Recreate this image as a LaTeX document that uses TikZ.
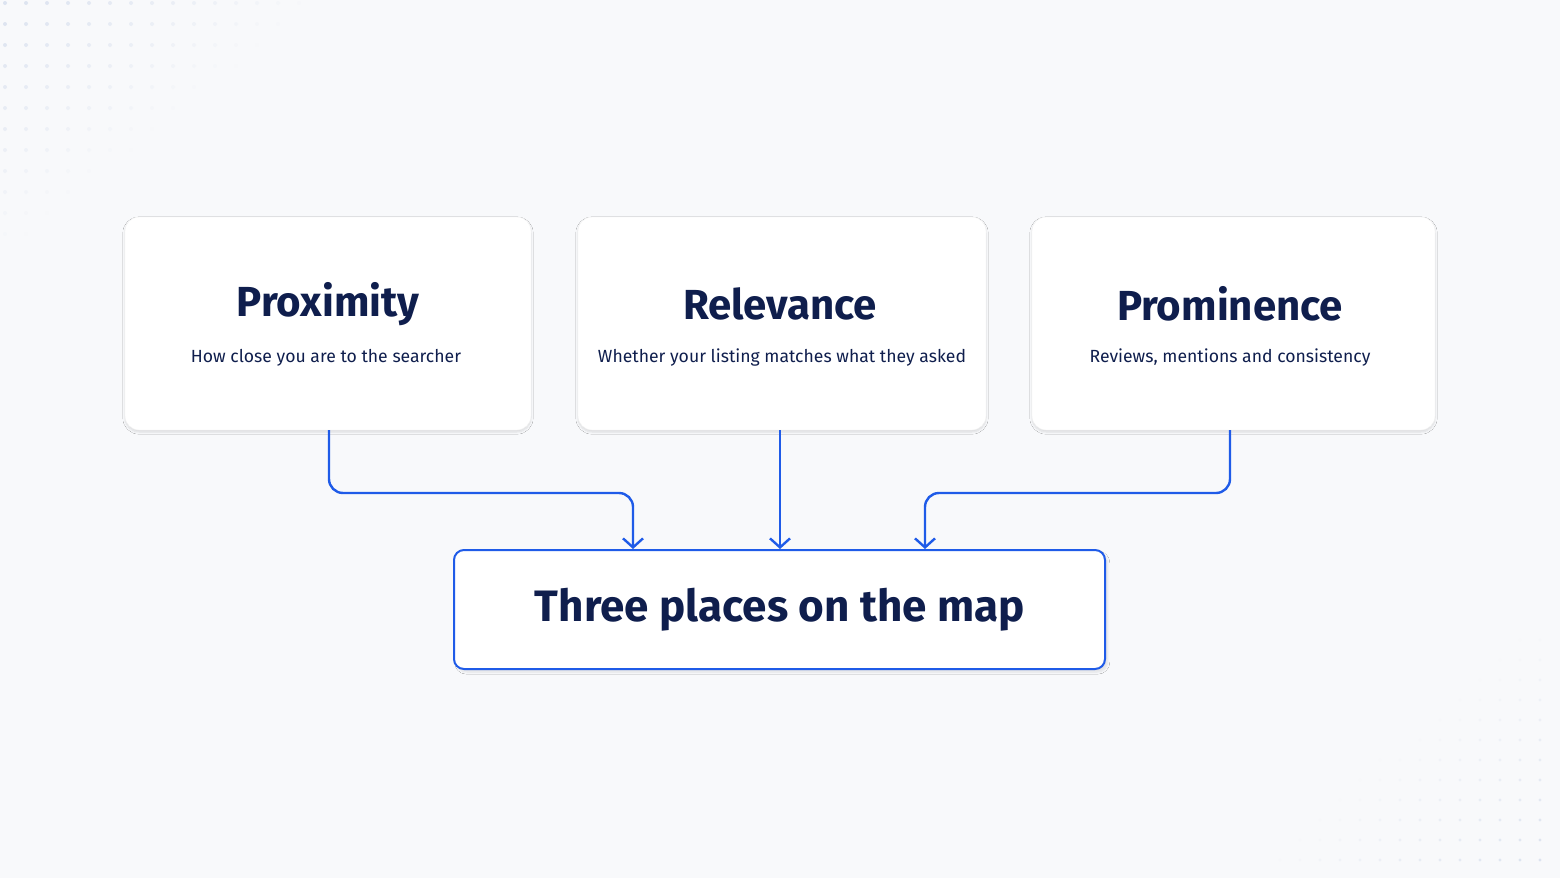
\documentclass[tikz,border=0pt]{standalone}
\usepackage{fontspec}
\setmainfont{Fira Sans}
\usetikzlibrary{shadows.blur,arrows.meta}
\definecolor{navy}{HTML}{0F1E4D}
\definecolor{blu}{HTML}{1F5BE8}
\definecolor{bg}{HTML}{F8F9FB}
\definecolor{dot}{HTML}{DCE3F0}
\begin{document}
\begin{tikzpicture}[x=1pt,y=-1pt,
 card/.style={draw=black!6,fill=white,rounded corners=14pt,minimum width=#1,minimum height=213pt,blur shadow={shadow blur steps=6,shadow xshift=0pt,shadow yshift=-2pt,shadow opacity=12}},
 ttl/.style={font=\fontsize{42}{46}\selectfont\bfseries,text=navy},
 sub/.style={font=\fontsize{17.6}{21}\selectfont,text=navy},
 conn/.style={draw=blu,line width=2.4pt,rounded corners=14pt,-{Straight Barb[length=9pt,width=20pt,line width=2.4pt]}}]
\useasboundingbox (0,0) rectangle (1560,878);
\fill[bg] (0,0) rectangle (1560,878);
\foreach \i in {0,...,14}{\foreach \j in {0,...,11}{
  \pgfmathsetmacro\op{max(0,1-(\i/15+\j/12))}
  \fill[dot,opacity=\op] (5+\i*21,3+\j*21) circle (2pt);}}
\foreach \i in {0,...,13}{\foreach \j in {0,...,11}{
  \pgfmathsetmacro\op{max(0,1-((13-\i)/14+(11-\j)/12))}
  \fill[dot,opacity=\op] (1280+\i*20,640+\j*20) circle (1.6pt);}}
\node[card=406pt] (p) at (328,323.5) {};
\node[card=408pt] (r) at (782,323.5) {};
\node[card=403pt] (m) at (1233.5,323.5) {};
\node[ttl] (pt) at (328,304) {Proximity};
\node[sub] (ps) at (326,358) {How close you are to the searcher};
\node[ttl] (rt) at (780,304) {Relevance};
\node[sub] (rs) at (782,358) {Whether your listing matches what they asked};
\node[ttl] (mt) at (1230,304) {Prominence};
\node[sub] (ms) at (1230,358) {Reviews, mentions and consistency};
\node[draw=blu,line width=2pt,fill=white,rounded corners=10pt,minimum width=651pt,minimum height=119pt,blur shadow={shadow blur steps=6,shadow yshift=-3pt,shadow opacity=10}] (b) at (779.5,609.5) {};
\node[font=\fontsize{44}{48}\selectfont\bfseries,text=navy] (bt) at (780,610) {Three places on the map};
\coordinate (a1) at (633,549); \coordinate (a2) at (780,549); \coordinate (a3) at (925,549);
\draw[conn] (p.south -| 329,0) |- (633,493) -- (a1);
\draw[conn] (r.south -| 780,0) -- (a2);
\draw[conn] (m.south -| 1230,0) |- (925,493) -- (a3);
\end{tikzpicture}
\end{document}
